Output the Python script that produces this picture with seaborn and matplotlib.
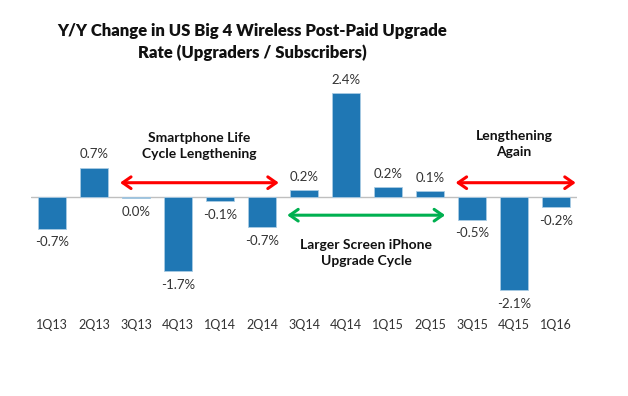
import matplotlib
matplotlib.use("Agg")
import matplotlib.pyplot as plt
import seaborn as sns
import pandas as pd

quarters = ["1Q13", "2Q13", "3Q13", "4Q13", "1Q14", "2Q14", "3Q14",
            "4Q14", "1Q15", "2Q15", "3Q15", "4Q15", "1Q16"]
values = [-0.73, 0.68, -0.03, -1.72, -0.09, -0.69, 0.16,
          2.40, 0.22, 0.14, -0.52, -2.14, -0.24]
labels = ["-0.7%", "0.7%", "0.0%", "-1.7%", "-0.1%", "-0.7%", "0.2%",
          "2.4%", "0.2%", "0.1%", "-0.5%", "-2.1%", "-0.2%"]

title = "Y/Y Change in US Big 4 Wireless Post-Paid Upgrade\nRate (Upgraders / Subscribers)"
ann_left = "Smartphone Life\nCycle Lengthening"
ann_mid = "Larger Screen iPhone\nUpgrade Cycle"
ann_right = "Lengthening\nAgain"

sns.set_theme(style="white")
plt.rcParams["font.family"] = ["Lato", "DejaVu Sans"]

df = pd.DataFrame({"quarter": quarters, "value": values})

W, H = 628, 396
fig = plt.figure(figsize=(W / 100, H / 100), dpi=100)
ymin, ymax = -2.6, 2.7
ppu = 43.3
zero_px = 197
top_px = zero_px - ymax * ppu
bot_px = zero_px - ymin * ppu
left_px, right_px = 31, 577
ax = fig.add_axes([left_px / W, 1 - bot_px / H, (right_px - left_px) / W, (bot_px - top_px) / H])

sns.barplot(data=df, x="quarter", y="value", order=quarters, color="#1f77b4",
            saturation=1, width=0.67, ax=ax, edgecolor="#a9cbe3", linewidth=0.6)
ax.set_xlim(-0.5, len(quarters) - 0.5)
ax.set_ylim(ymin, ymax)
ax.axhline(0, color="#bfbfbf", lw=1, zorder=0.5)
for s in ax.spines.values():
    s.set_visible(False)
ax.set_yticks([])
ax.set_xlabel("")
ax.set_ylabel("")
ax.tick_params(axis="x", length=0, pad=7, labelsize=9, labelcolor="#333333")

for i, (v, lab) in enumerate(zip(values, labels)):
    off = 9.5 if v > 0 else -10
    ax.annotate(lab, (i, v), xytext=(0, off), textcoords="offset points",
                ha="center", va="center", fontsize=9.5, color="#333333")

def arrow(x0, x1, y, color):
    ax.annotate("", xy=(x1, y), xytext=(x0, y),
                arrowprops=dict(arrowstyle="<->,head_length=0.5,head_width=0.35",
                                color=color, lw=2.2, shrinkA=0, shrinkB=0))

arrow(1.62, 5.40, 0.33, "#ff0000")
arrow(5.60, 9.36, -0.42, "#00b050")
arrow(9.61, 12.47, 0.33, "#ff0000")

for x, ypx, txt in [(3.5, 146, ann_left), (7.48, 253, ann_mid), (11.0, 144, ann_right)]:
    ax.text(x, (zero_px - ypx) / ppu, txt, ha="center", va="center",
            fontsize=10, fontweight="bold", color="#111111", linespacing=1.4)

fig.text(252 / W, 1 - 42 / H, title, ha="center", va="center", fontsize=12,
         fontweight="heavy", color="#111111", linespacing=1.45)

fig.savefig("out.png", dpi=100, facecolor="white")
